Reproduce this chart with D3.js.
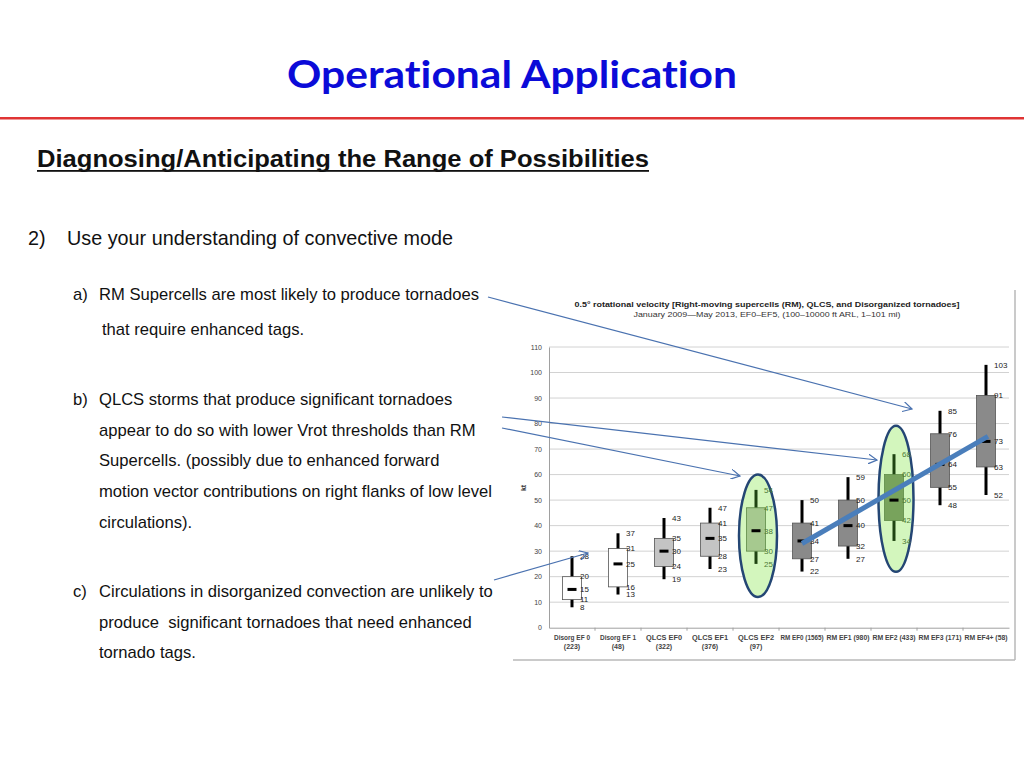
<!DOCTYPE html>
<html>
<head>
<meta charset="utf-8">
<script src="https://cdn.jsdelivr.net/npm/d3@7"></script>
<style>
  body { margin: 0; background: #fff; }
  svg { display: block; }
</style>
</head>
<body>
<div id="slide"></div>
<script>
// Box plot data (0.5 deg rotational velocity, kt)
const categories = ["Disorg EF 0", "Disorg EF 1", "QLCS EF0", "QLCS EF1", "QLCS EF2",
                    "RM EF0", "RM EF1", "RM EF2", "RM EF3", "RM EF4+"];
const counts   = [223, 48, 322, 376, 97, 1565, 980, 433, 171, 58];
const mins     = [8, 13, 19, 23, 25, 22, 27, 34, 48, 52];
const q1s      = [11, 16, 24, 28, 30, 27, 32, 42, 55, 63];
const medians  = [15, 25, 30, 35, 38, 34, 40, 50, 64, 73];
const q3s      = [20, 31, 35, 41, 47, 41, 50, 60, 76, 91];
const maxs     = [28, 37, 43, 47, 54, 50, 59, 68, 85, 103];
const yTicks   = [0, 10, 20, 30, 40, 50, 60, 70, 80, 90, 100, 110];

// highlighted (circled) categories and the trend line through the RM medians
const highlighted = ["QLCS EF2", "RM EF2"];
const trendFrom = { cat: "RM EF0", value: 33 };
const trendTo   = { cat: "RM EF4+", value: 75 };

const data = categories.map((c, i) => ({
    cat: c, n: counts[i], min: mins[i], q1: q1s[i], med: medians[i], q3: q3s[i], max: maxs[i]
}));

const W = 1024, H = 768;
const svg = d3.select("#slide").append("svg")
    .attr("width", W).attr("height", H);

// ---------- slide text ----------
svg.append("text")
    .attr("x", 512).attr("y", 88)
    .attr("text-anchor", "middle")
    .attr("textLength", 450).attr("lengthAdjust", "spacingAndGlyphs")
    .style("font-family", "Lato, 'Open Sans', sans-serif")
    .style("font-size", "38px").style("font-weight", "bold")
    .style("font-variant-ligatures", "none")
    .style("fill", "#0b0bd8")
    .text("Operational Application");

svg.append("rect").attr("x", 0).attr("y", 117).attr("width", W).attr("height", 2.5)
    .attr("fill", "#e03434");

svg.append("text")
    .attr("x", 37).attr("y", 167)
    .attr("textLength", 612).attr("lengthAdjust", "spacingAndGlyphs")
    .style("font-family", "'Liberation Sans', Arial, sans-serif")
    .style("font-size", "23px").style("font-weight", "bold")
    .style("fill", "#111")
    .text("Diagnosing/Anticipating the Range of Possibilities");
svg.append("rect").attr("x", 37).attr("y", 170).attr("width", 612).attr("height", 1.8)
    .attr("fill", "#111");

const body = svg.append("g")
    .style("font-family", "'Liberation Sans', Arial, sans-serif")
    .style("fill", "#111");

body.append("text").attr("x", 28).attr("y", 245).style("font-size", "19.8px").text("2)");
body.append("text").attr("x", 67).attr("y", 245).style("font-size", "19.8px")
    .text("Use your understanding of convective mode");

const bullets = [
    { mark: "a)", y: 300, lines: ["RM Supercells are most likely to produce tornadoes"] },
    { mark: "b)", y: 405, lines: ["QLCS storms that produce significant tornadoes",
                                  "appear to do so with lower Vrot thresholds than RM",
                                  "Supercells. (possibly due to enhanced forward",
                                  "motion vector contributions on right flanks of low level",
                                  "circulations)."] },
    { mark: "c)", y: 597, lines: ["Circulations in disorganized convection are unlikely to",
                                  "produce  significant tornadoes that need enhanced",
                                  "tornado tags."] }
];
bullets.forEach(b => {
    body.append("text").attr("x", 73).attr("y", b.y).style("font-size", "16.6px").text(b.mark);
    b.lines.forEach((l, i) => {
        body.append("text").attr("x", 99).attr("y", b.y + i * 30.7)
            .style("font-size", "16.6px").style("white-space", "pre").text(l);
    });
});
body.append("text").attr("x", 102).attr("y", 335).style("font-size", "16.6px")
    .text("that require enhanced tags.");

// ---------- chart ----------
const chart = svg.append("g");

// frame of the chart picture
chart.append("line").attr("x1", 513).attr("x2", 1015).attr("y1", 660).attr("y2", 660)
    .attr("stroke", "#b8b8b8").attr("stroke-width", 1.5);
chart.append("line").attr("x1", 1015).attr("x2", 1015).attr("y1", 290).attr("y2", 660)
    .attr("stroke", "#b8b8b8").attr("stroke-width", 1.5);

chart.append("text")
    .attr("x", 767).attr("y", 307).attr("text-anchor", "middle")
    .attr("textLength", 385).attr("lengthAdjust", "spacingAndGlyphs")
    .style("font-family", "'Liberation Sans', Arial, sans-serif")
    .style("font-size", "8px").style("font-weight", "bold").style("fill", "#222")
    .text("0.5\u00b0 rotational velocity [Right-moving supercells (RM), QLCS, and Disorganized tornadoes]");
chart.append("text")
    .attr("x", 767).attr("y", 317).attr("text-anchor", "middle")
    .attr("textLength", 267).attr("lengthAdjust", "spacingAndGlyphs")
    .style("font-family", "'Liberation Sans', Arial, sans-serif")
    .style("font-size", "8px").style("fill", "#333")
    .text("January  2009\u2014May 2013, EF0\u2013EF5, (100\u201310000 ft ARL, 1\u2013101 mi)");

const x = d3.scaleBand().domain(categories).range([549, 1009]).padding(0);
const y = d3.scaleLinear().domain([0, 110]).range([627.7, 347]);
const cx = c => x(c) + x.bandwidth() / 2;

// gridlines
chart.append("g").selectAll("line")
    .data(yTicks.filter(t => t > 0))
    .join("line")
    .attr("x1", 549).attr("x2", 1009)
    .attr("y1", d => y(d)).attr("y2", d => y(d))
    .attr("stroke", "#d2d2d2").attr("stroke-width", 1);

// y axis
const yAxis = chart.append("g")
    .attr("transform", "translate(549,0)")
    .call(d3.axisLeft(y).tickValues(yTicks).tickSize(0).tickPadding(7));
yAxis.select(".domain").attr("stroke", "#a0a0a0");
yAxis.selectAll("text")
    .style("font-family", "'Liberation Sans', Arial, sans-serif")
    .style("font-size", "7px").style("fill", "#444");

chart.append("text")
    .attr("transform", "translate(526,488) rotate(-90)")
    .attr("text-anchor", "middle")
    .style("font-family", "'Liberation Sans', Arial, sans-serif")
    .style("font-size", "7px").style("font-weight", "bold").style("fill", "#333")
    .text("kt");

// x axis
const xAxis = chart.append("g")
    .attr("transform", `translate(0,${y(0)})`)
    .call(d3.axisBottom(x).tickSize(0).tickFormat(""));
xAxis.select(".domain").attr("stroke", "#a0a0a0");
chart.append("g").selectAll("line")
    .data(categories.slice(1))
    .join("line")
    .attr("x1", d => x(d)).attr("x2", d => x(d))
    .attr("y1", y(0)).attr("y2", y(0) + 3)
    .attr("stroke", "#a0a0a0");

const catLabels = chart.append("g")
    .style("font-family", "'Liberation Sans Narrow', 'Liberation Sans', Arial, sans-serif")
    .style("font-size", "7px").style("font-weight", "bold").style("fill", "#444")
    .attr("text-anchor", "middle");
data.forEach(d => {
    if (d.cat.startsWith("RM")) {
        catLabels.append("text").attr("x", cx(d.cat)).attr("y", 640)
            .attr("textLength", 43).attr("lengthAdjust", "spacingAndGlyphs")
            .text(`${d.cat} (${d.n})`);
    } else {
        catLabels.append("text").attr("x", cx(d.cat)).attr("y", 640)
            .attr("textLength", 36).attr("lengthAdjust", "spacingAndGlyphs")
            .text(d.cat);
        catLabels.append("text").attr("x", cx(d.cat)).attr("y", 649).text(`(${d.n})`);
    }
});

// highlight ellipses
const ellipses = [
    { cat: "QLCS EF2", value: 36, ry: 24, rx: 19 },
    { cat: "RM EF2", value: 50.5, ry: 28.6, rx: 17.5 }
];
chart.append("g").selectAll("ellipse")
    .data(ellipses)
    .join("ellipse")
    .attr("cx", d => cx(d.cat) + 2)
    .attr("cy", d => y(d.value))
    .attr("rx", d => d.rx)
    .attr("ry", d => y(0) - y(d.ry))
    .attr("fill", "#d3f6bd")
    .attr("stroke", "#244674").attr("stroke-width", 2.5);

// box styling
function boxFill(d) {
    if (d.cat === "QLCS EF2") return "#a6c98f";
    if (d.cat === "RM EF2") return "#78a35c";
    if (d.cat.startsWith("Disorg")) return "#ffffff";
    if (d.cat.startsWith("QLCS")) return "#c4c4c4";
    return "#8a8a8a";
}
const isHi = d => highlighted.includes(d.cat);

const bw = 19;
const boxes = chart.append("g").selectAll("g")
    .data(data)
    .join("g");

boxes.append("line")
    .attr("x1", d => cx(d.cat)).attr("x2", d => cx(d.cat))
    .attr("y1", d => y(d.min)).attr("y2", d => y(d.max))
    .attr("stroke", d => isHi(d) ? "#1f4412" : "#000")
    .attr("stroke-width", 3);

boxes.append("rect")
    .attr("x", d => cx(d.cat) - bw / 2)
    .attr("width", bw)
    .attr("y", d => y(d.q3))
    .attr("height", d => y(d.q1) - y(d.q3))
    .attr("fill", boxFill)
    .attr("stroke", d => isHi(d) ? "#5f8a47" : "#555")
    .attr("stroke-width", 0.8);

boxes.append("rect")
    .attr("x", d => cx(d.cat) - 4.5)
    .attr("width", 9)
    .attr("y", d => y(d.med) - 1.5)
    .attr("height", 3)
    .attr("fill", "#000");

// value labels
boxes.each(function (d) {
    const g = d3.select(this);
    [d.max, d.q3, d.med, d.q1, d.min].forEach(v => {
        g.append("text")
            .attr("x", cx(d.cat) + 8)
            .attr("y", y(v))
            .attr("dy", "0.35em")
            .style("font-family", "'Liberation Sans Narrow', 'Liberation Sans', Arial, sans-serif")
            .style("font-size", "8px")
            .style("fill", isHi(d) ? "#4d7a36" : "#222")
            .text(v);
    });
});

// trend line through the RM medians
chart.append("line")
    .attr("x1", cx(trendFrom.cat)).attr("y1", y(trendFrom.value))
    .attr("x2", cx(trendTo.cat) + 2).attr("y2", y(trendTo.value))
    .attr("stroke", "#4a7ebb").attr("stroke-width", 5)
    .attr("stroke-linecap", "butt");

// annotation arrows from the text to the chart
const defs = svg.append("defs");
defs.append("marker")
    .attr("id", "open-arrow")
    .attr("viewBox", "0 0 10 10")
    .attr("refX", 9).attr("refY", 5)
    .attr("markerWidth", 10).attr("markerHeight", 10)
    .attr("markerUnits", "userSpaceOnUse")
    .attr("orient", "auto")
    .append("path")
    .attr("d", "M0,0 L9,5 L0,10")
    .attr("fill", "none").attr("stroke", "#4a72b0").attr("stroke-width", 1.2);

const arrows = [
    [488, 297, 912, 409],
    [502, 417, 877, 460],
    [502, 428, 740, 476],
    [494, 580, 588, 553]
];
svg.append("g").selectAll("line")
    .data(arrows)
    .join("line")
    .attr("x1", d => d[0]).attr("y1", d => d[1])
    .attr("x2", d => d[2]).attr("y2", d => d[3])
    .attr("stroke", "#4a72b0").attr("stroke-width", 1.2)
    .attr("marker-end", "url(#open-arrow)");
</script>
</body>
</html>
